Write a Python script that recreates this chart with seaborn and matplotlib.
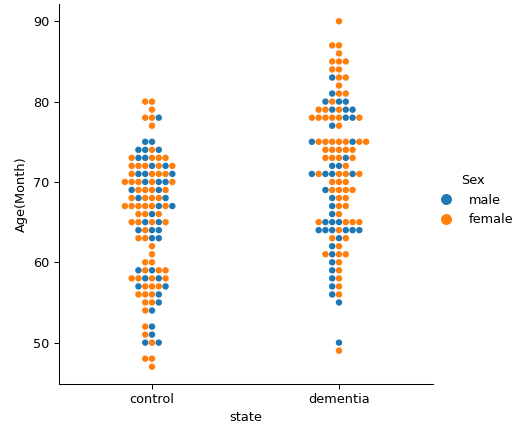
import numpy as np
import pandas as pd
import matplotlib
matplotlib.use("Agg")
import matplotlib.pyplot as plt
import seaborn as sns

# ─── Data: one row per integer age ────────────────────────
ctrl_age = [80, 79, 78, 77, 75, 74, 73, 72, 71, 70, 69, 68, 67, 66, 65, 64,
            63, 62, 61, 60, 59, 58, 57, 56, 55, 54, 52, 51, 50, 48, 47]
ctrl_male = [0, 0, 1, 0, 2, 3, 2, 2, 3, 3, 2, 2, 2, 1, 2, 3,
             2, 0, 0, 0, 2, 2, 2, 1, 1, 1, 1, 1, 2, 0, 0]
ctrl_female = [2, 1, 2, 1, 0, 1, 4, 5, 4, 5, 4, 4, 6, 3, 4, 1,
               2, 1, 1, 2, 3, 4, 3, 3, 2, 1, 1, 1, 1, 2, 1]

dem_age = [90, 87, 86, 85, 84, 83, 82, 81, 80, 79, 78, 77, 75, 74, 73, 72,
           71, 70, 69, 68, 67, 66, 65, 64, 63, 62, 61, 60, 59, 58, 57, 56,
           55, 50, 49]
dem_male = [0, 0, 0, 0, 0, 1, 0, 1, 3, 3, 2, 1, 2, 0, 1, 2,
            4, 0, 1, 1, 1, 1, 3, 6, 1, 1, 1, 1, 1, 1, 1, 1,
            1, 1, 0]
dem_female = [1, 2, 1, 3, 2, 2, 1, 2, 1, 3, 6, 1, 7, 5, 4, 1,
              4, 3, 4, 2, 2, 1, 4, 1, 2, 1, 3, 1, 1, 1, 1, 1,
              0, 0, 1]

states = ["control", "dementia"]
sexes = ["male", "female"]


def build_rows(state, ages, males, females):
    rows = []
    for age, nm, nf in zip(ages, males, females):
        seq = []
        # alternate sexes within a row so colours mix like the original
        for i in range(max(nm, nf)):
            if i < nf:
                seq.append("female")
            if i < nm:
                seq.append("male")
        for sex in seq:
            rows.append({"state": state, "Age(Month)": age, "Sex": sex})
    return rows


df = pd.DataFrame(
    build_rows("control", ctrl_age, ctrl_male, ctrl_female)
    + build_rows("dementia", dem_age, dem_male, dem_female)
)

# ─── Figure ──────────────────────────────────────────────────────────────────
DPI = 93
g = sns.catplot(
    data=df, x="state", y="Age(Month)", hue="Sex",
    kind="swarm", order=states, hue_order=sexes,
    height=4.6, aspect=1.0, size=5,
)

fig = g.figure
fig.set_size_inches(515 / DPI, 426 / DPI)
fig.subplots_adjust(left=58.5 / 515, right=432.5 / 515,
                    bottom=42 / 426, top=422 / 426)
sns.move_legend(g, "center right", bbox_to_anchor=(1.02, 0.53),
                frameon=False, markerscale=1.7, handletextpad=0.8)

fig.savefig("out.png", dpi=DPI)
